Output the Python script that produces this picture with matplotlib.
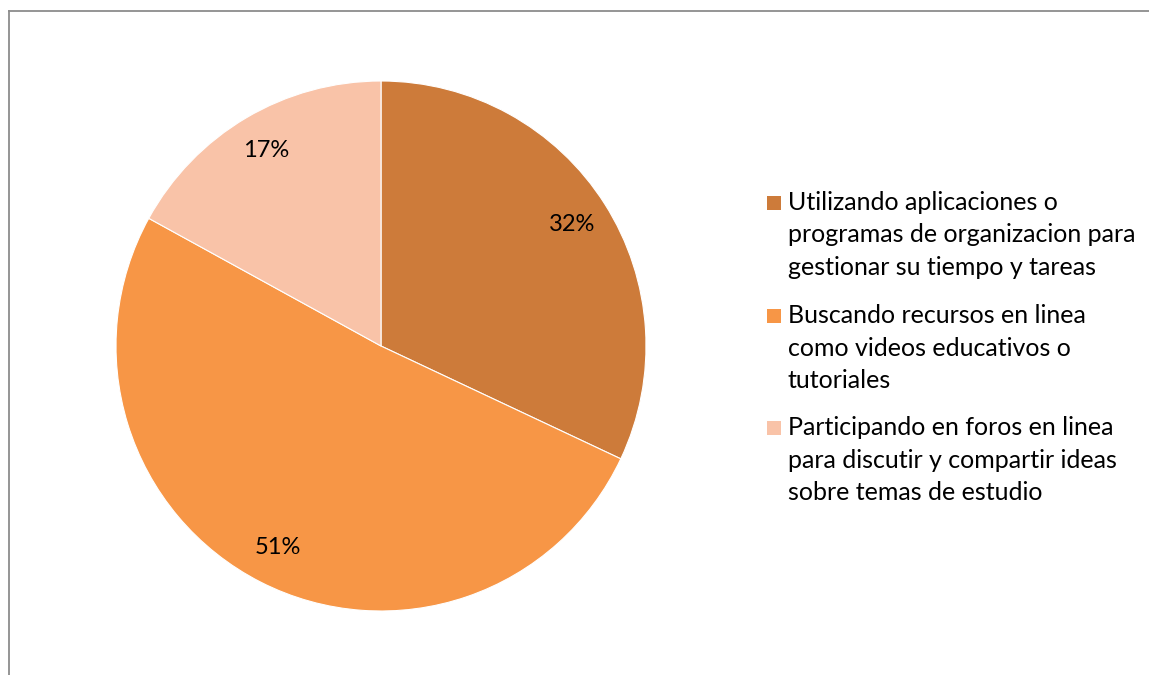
import matplotlib
matplotlib.use("Agg")
import matplotlib.pyplot as plt
from matplotlib.patches import Rectangle
from matplotlib.lines import Line2D

categories = [
    "Utilizando aplicaciones o\nprogramas de organizacion para\ngestionar su tiempo y tareas",
    "Buscando recursos en linea\ncomo videos educativos o\ntutoriales",
    "Participando en foros en linea\npara discutir y compartir ideas\nsobre temas de estudio",
]
values = [32, 51, 17]
colors = ["#CD7B3A", "#F79646", "#F9C3A8"]

plt.rcParams['font.family'] = ['Lato', 'DejaVu Sans']

W, H = 1149, 675
fig = plt.figure(figsize=(W / 100, H / 100), dpi=100)
fig.patch.set_facecolor("white")

cx, cy, r = 381, 346, 265
ax = fig.add_axes([(cx - r) / W, (H - cy - r) / H, 2 * r / W, 2 * r / H])
wedges, texts, autotexts = ax.pie(
    values, colors=colors, startangle=90, counterclock=False,
    autopct=lambda p: f"{p:.0f}%", pctdistance=0.855,
    wedgeprops=dict(linewidth=0.8, edgecolor="white"),
    textprops=dict(fontsize=17, color="black"),
)
ax.set_xlim(-1, 1)
ax.set_ylim(-1, 1)

# legend, drawn manually to match layout
first_baselines = [210, 323, 435]
line_step = 32.5
for label, color, yb in zip(categories, colors, first_baselines):
    fig.add_artist(Rectangle((767 / W, (H - yb) / H), 14 / W, 14 / H,
                             facecolor=color, edgecolor="none",
                             transform=fig.transFigure))
    for i, line in enumerate(label.split("\n")):
        fig.text(788 / W, (H - yb - i * line_step) / H, line,
                 fontsize=18, va="baseline", ha="left", color="black")

# chart frame (top and left borders)
fig.add_artist(Line2D([8.5 / W, 1], [1 - 10.5 / H, 1 - 10.5 / H], color="#8C8C8C", lw=1.3, transform=fig.transFigure))
fig.add_artist(Line2D([8.5 / W, 8.5 / W], [0, 1 - 10.5 / H], color="#8C8C8C", lw=1.3, transform=fig.transFigure))

fig.savefig("out.png", dpi=100)
